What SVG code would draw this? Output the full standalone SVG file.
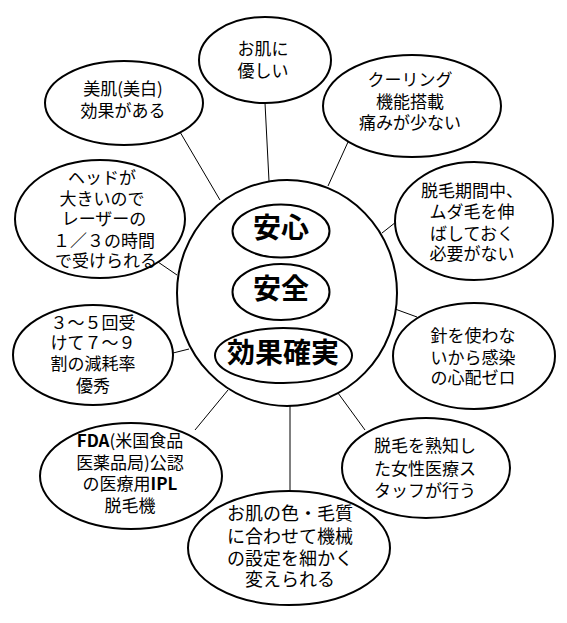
<svg xmlns="http://www.w3.org/2000/svg" width="567" height="623" viewBox="0 0 567 623">
<style>
.n{fill:#fff;stroke:#000;stroke-width:2}
.c line{stroke:#000;stroke-width:1}
text{font-family:"Noto Sans CJK JP","Noto Sans",sans-serif;fill:#000;text-anchor:middle}
.t{font-size:17px}
.b{font-size:28px;font-weight:bold}
.w{font-weight:bold}
</style>
<rect width="567" height="623" fill="#fff"/>
<g class="c" id="connectors">
<line x1="265" y1="103" x2="269" y2="181"/>
<line x1="180" y1="132" x2="220" y2="200"/>
<line x1="348" y1="142" x2="328" y2="186"/>
<line x1="158" y1="262" x2="177" y2="275"/>
<line x1="396" y1="222" x2="382" y2="233"/>
<line x1="173" y1="353" x2="189" y2="349"/>
<line x1="395" y1="309" x2="417" y2="317"/>
<line x1="195" y1="430" x2="228" y2="390"/>
<line x1="338" y1="393" x2="365" y2="430"/>
<line x1="290" y1="405" x2="290" y2="491"/>
</g>
<g id="center">
<ellipse class="n" cx="287" cy="293" rx="110" ry="113"/>
</g>
<g id="anshin">
<ellipse class="n" cx="281" cy="231" rx="48.5" ry="26.5"/>
<text class="b" x="281" y="238">安心</text>
</g>
<g id="anzen">
<ellipse class="n" cx="281" cy="292" rx="48.5" ry="28"/>
<text class="b" x="281" y="299">安全</text>
</g>
<g id="kouka">
<ellipse class="n" cx="283.5" cy="355.5" rx="68.5" ry="27.5"/>
<text class="b" x="283" y="363">効果確実</text>
</g>
<g id="n1">
<ellipse class="n" cx="265" cy="60" rx="66" ry="43"/>
<text class="t"><tspan x="263" y="55">お肌に</tspan><tspan x="263" y="77">優しい</tspan></text>
</g>
<g id="n2">
<ellipse class="n" cx="124" cy="103" rx="79" ry="42"/>
<text class="t"><tspan x="123" y="95">美肌(美白)</tspan><tspan x="123" y="117">効果がある</tspan></text>
</g>
<g id="n3">
<ellipse class="n" cx="412" cy="106" rx="89" ry="51"/>
<text class="t"><tspan x="410" y="86">クーリング</tspan><tspan x="410" y="108">機能搭載</tspan><tspan x="410" y="129">痛みが少ない</tspan></text>
</g>
<g id="n4">
<ellipse class="n" cx="100" cy="219" rx="85" ry="59"/>
<text class="t"><tspan x="102" y="184">ヘッドが</tspan><tspan x="102" y="205">大きいので</tspan><tspan x="104" y="225">レーザーの</tspan><tspan x="104" y="247">１／３の時間</tspan><tspan x="106" y="267">で受けられる</tspan></text>
</g>
<g id="n5">
<ellipse class="n" cx="474" cy="221" rx="79" ry="59"/>
<text class="t"><tspan x="472" y="197">脱毛期間中、</tspan><tspan x="472" y="218">ムダ毛を伸</tspan><tspan x="472" y="240">ばしておく</tspan><tspan x="472" y="260">必要がない</tspan></text>
</g>
<g id="n6">
<ellipse class="n" cx="93" cy="355" rx="80" ry="50"/>
<text class="t"><tspan x="93" y="329">３～５回受</tspan><tspan x="93" y="349">けて７～９</tspan><tspan x="93" y="370">割の減耗率</tspan><tspan x="93" y="392">優秀</tspan></text>
</g>
<g id="n7">
<ellipse class="n" cx="474" cy="356" rx="81" ry="53"/>
<text class="t"><tspan x="473" y="342">針を使わな</tspan><tspan x="473" y="364">いから感染</tspan><tspan x="473" y="384">の心配ゼロ</tspan></text>
</g>
<g id="n8">
<ellipse class="n" cx="131" cy="476" rx="91" ry="53"/>
<text class="t"><tspan x="130" y="447"><tspan class="w">FDA</tspan>(米国食品</tspan><tspan x="130" y="469">医薬品局)公認</tspan><tspan x="130" y="490">の医療用<tspan class="w">IPL</tspan></tspan><tspan x="130" y="512">脱毛機</tspan></text>
</g>
<g id="n9">
<ellipse class="n" cx="426" cy="468" rx="84" ry="50"/>
<text class="t"><tspan x="425" y="452">脱毛を熟知し</tspan><tspan x="425" y="475">た女性医療ス</tspan><tspan x="425" y="497">タッフが行う</tspan></text>
</g>
<g id="n10">
<ellipse class="n" cx="289" cy="548" rx="101" ry="57"/>
<text class="t" style="font-size:18px"><tspan x="290" y="520">お肌の色・毛質</tspan><tspan x="290" y="543">に合わせて機械</tspan><tspan x="290" y="565">の設定を細かく</tspan><tspan x="290" y="586">変えられる</tspan></text>
</g>
</svg>
